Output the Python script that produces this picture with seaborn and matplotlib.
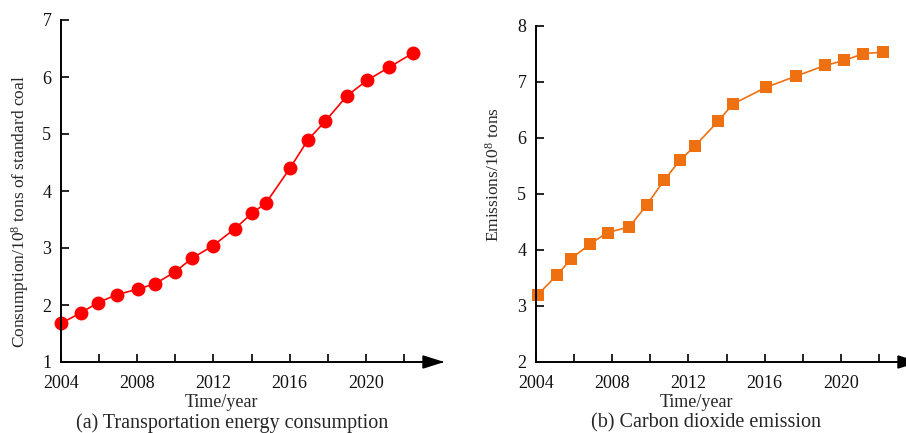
import numpy as np
import pandas as pd
import matplotlib
matplotlib.use("Agg")
import matplotlib.pyplot as plt
import seaborn as sns
from matplotlib.patches import Polygon

# data (x positions as fractional years)
cons_years = [2004.0, 2005.03, 2005.93, 2006.92, 2008.04, 2008.93, 2009.98, 2010.88,
              2011.98, 2013.13, 2014.03, 2014.76, 2016.02, 2016.97, 2017.86, 2019.01,
              2020.06, 2021.22, 2022.48]
cons_values = [1.68, 1.86, 2.04, 2.18, 2.28, 2.37, 2.58, 2.82, 3.04, 3.34, 3.61, 3.79,
               4.40, 4.90, 5.22, 5.67, 5.94, 6.17, 6.42]

co2_years = [2004.09, 2005.10, 2005.84, 2006.85, 2007.76, 2008.90, 2009.81, 2010.74,
             2011.56, 2012.36, 2013.57, 2014.33, 2016.07, 2017.65, 2019.17, 2020.18,
             2021.18, 2022.23]
co2_values = [3.20, 3.55, 3.84, 4.11, 4.31, 4.41, 4.80, 5.25, 5.60, 5.86, 6.30, 6.60,
              6.90, 7.10, 7.29, 7.38, 7.50, 7.53]

major_ticks = [2004, 2008, 2012, 2016, 2020]
minor_ticks = [2006, 2010, 2014, 2018, 2022]

sns.set_style("ticks")
plt.rcParams['font.family'] = ['Liberation Serif', 'DejaVu Serif']
plt.rcParams['mathtext.fontset'] = 'custom'
plt.rcParams['mathtext.rm'] = 'Liberation Serif'
plt.rcParams['mathtext.it'] = 'Liberation Serif:italic'


def style_axis(ax, ymin, ymax, ylabel, ylab_xy, caption, cap_x):
    ax.set_xlim(2004, 2024)
    ax.set_ylim(ymin, ymax)
    ax.set_xticks(major_ticks)
    ax.set_xticks(minor_ticks, minor=True)
    ax.set_yticks(range(ymin, ymax + 1))
    ax.set_xticklabels([str(t) for t in major_ticks])
    sns.despine(ax=ax)
    for s in ['left', 'bottom']:
        ax.spines[s].set_linewidth(1.4)
        ax.spines[s].set_color('black')
    ax.tick_params(axis='both', which='both', direction='in', length=6,
                   width=1.2, color='black', labelsize=13, labelcolor='#111111')
    ax.tick_params(axis='x', which='both', pad=9)
    ax.tick_params(axis='y', pad=7)
    ax.set_xlabel('Time/year', fontsize=13)
    ax.xaxis.set_label_coords(0.42, -0.095)
    ax.set_ylabel('')
    ax.text(ylab_xy[0], ylab_xy[1], ylabel, rotation=90, ha='center', va='center',
            fontsize=12.5, transform=ax.transAxes)
    ax.text(cap_x, -0.18, caption, ha='center', va='center', fontsize=14.5,
            transform=ax.transAxes)
    # arrow head at the end of the x axis
    h = 6 / (ax.get_position().height * fig.get_figheight() * fig.dpi)
    w = 19 / (ax.get_position().width * fig.get_figwidth() * fig.dpi)
    tri = Polygon([[1 - w, -h], [1, 0], [1 - w, h]], closed=True, color='black',
                  transform=ax.transAxes, clip_on=False)
    ax.add_patch(tri)


fig = plt.figure(figsize=(9.06, 4.33), dpi=100)
ax1 = fig.add_axes([61 / 906, 71 / 433, 381 / 906, 342 / 433])
ax2 = fig.add_axes([536 / 906, 71 / 433, 381 / 906, 336.3 / 433])

df1 = pd.DataFrame({'year': cons_years, 'value': cons_values})
df2 = pd.DataFrame({'year': co2_years, 'value': co2_values})

sns.lineplot(data=df1, x='year', y='value', ax=ax1, color='#FF0000', linewidth=1.2,
             marker='o', markersize=10, markeredgewidth=0, clip_on=False)
sns.lineplot(data=df2, x='year', y='value', ax=ax2, color='#EE7011', linewidth=1.2,
             marker='s', markersize=8.5, markeredgewidth=0, clip_on=False)

style_axis(ax1, 1, 7, 'Consumption/10$^8$ tons of standard coal', (-0.108, 0.44),
           '(a) Transportation energy consumption', 0.449)
style_axis(ax2, 2, 8, 'Emissions/10$^8$ tons', (-0.11, 0.556),
           '(b) Carbon dioxide emission', 0.446)

fig.savefig('out.png', dpi=100)
